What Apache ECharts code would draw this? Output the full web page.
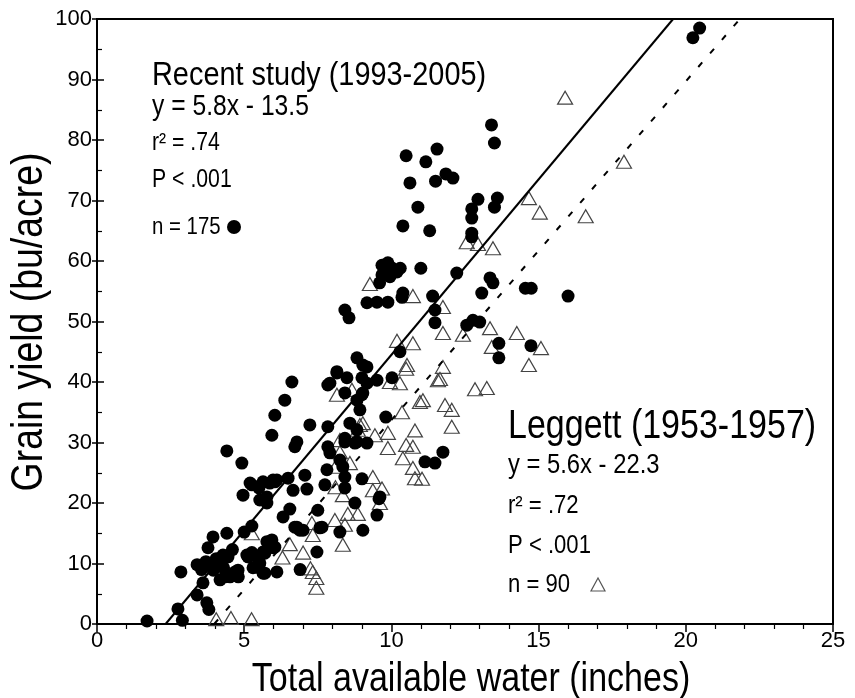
<!DOCTYPE html>
<html><head><meta charset="utf-8">
<script src="https://cdn.jsdelivr.net/npm/echarts@6/dist/echarts.min.js"></script>
<style>html,body{margin:0;padding:0;background:#fff}#c{width:855px;height:698px}</style>
</head><body><div id="c"></div>
<script>
// Recent study (1993-2005): [water (in), yield (bu/acre)]
const recentPoints = [
 [1.7,0.5],[2.9,0.6],[2.75,2.5],[3.4,4.8],[3.73,3.5],[3.8,2.4],[2.85,8.6],[3.4,9.8],[3.55,9.0],[3.7,10.3],
 [3.77,12.6],[3.94,14.4],[3.95,8.9],[4.18,10.1],[4.28,11.4],[4.18,7.3],[4.41,8.1],[4.69,8.6],[4.8,7.8],[4.41,15.0],
 [4.45,11.1],[4.05,10.8],[4.3,9.3],[3.6,6.8],[4.6,12.3],[4.35,7.8],[4.52,7.8],[4.0,9.4],[3.57,9.4],
 [5.0,15.2],[5.26,16.2],[5.09,11.4],[5.26,11.8],[5.43,11.1],[5.77,13.6],[5.98,12.6],[5.3,9.3],[5.7,8.4],[6.11,8.6],
 [5.13,11.1],[5.43,9.4],[5.53,10.1],[5.7,11.7],[6.04,12.7],[4.79,8.9],
 [4.96,21.3],[5.26,23.0],[5.64,23.5],[5.53,20.5],[5.77,20.0],[5.98,23.8],[5.5,22.5],[5.2,23.3],[5.77,21.0],[6.04,23.5],
 [4.41,28.6],[4.92,26.6],[5.94,31.2],[6.04,34.5],[6.38,37.0],[6.62,40.0],
 [5.87,23.3],[6.11,23.8],[6.49,24.1],[7.06,24.6],[6.66,22.1],[7.13,22.3],[7.74,23.0],[8.42,24.3],[8.42,22.5],[9.0,24.0],
 [6.55,19.0],[6.32,17.7],[7.5,18.8],[6.79,16.0],[7.0,15.5],[7.64,16.0],[8.76,20.0],[8.25,15.2],[9.03,15.5],[9.58,20.7],
 [9.51,18.0],[5.94,13.9],[5.64,11.9],[7.47,11.9],[5.64,8.4],[6.9,9.0],[6.89,15.5],[6.72,16.0],[7.57,15.9],
 [7.23,32.9],[7.84,32.6],[8.59,33.2],[6.79,30.1],[6.72,29.3],[9.81,34.2],[7.84,29.3],[8.25,27.1],[8.42,30.1],[8.83,30.1],
 [9.17,29.9],[7.81,25.5],[8.35,26.0],[7.91,28.3],[8.42,30.7],[8.76,29.9],[9.61,21.0],
 [7.84,39.5],[8.42,38.2],[9.03,38.2],[8.83,44.0],[9.17,42.5],[8.15,41.5],[8.49,40.7],[9.0,40.7],[9.51,40.3],[10.02,40.7],
 [7.91,39.8],[9.17,39.8],[9.0,37.9],[8.83,37.0],[8.93,35.4],[8.83,32.1],[8.15,41.7],[9.03,42.8],[10.29,45.0],
 [8.42,51.9],[8.56,50.6],[9.17,53.1],[9.51,53.2],[9.88,53.2],[10.36,54.0],[9.68,59.3],[9.88,59.7],[10.19,58.2],[9.68,57.7],
 [9.95,57.4],[9.6,56.4],[10.3,58.8],[9.8,58.5],[9.75,58.0],[10.0,58.9],[11.0,58.8],[11.4,54.2],[11.48,51.9],[11.48,49.8],[10.39,54.7],
 [12.22,58.0],[13.35,57.2],[13.45,56.4],[13.07,54.7],[14.55,55.5],[14.75,55.5],[16.0,54.2],[12.56,49.4],[12.77,50.2],[13.0,49.9],
 [13.65,46.4],[13.65,44.0],[14.74,46.0],[11.14,26.8],[11.48,26.6],[11.75,28.4],
 [10.5,77.4],[11.55,78.5],[11.17,76.4],[11.85,74.4],[12.09,73.7],[10.63,72.9],[11.5,73.2],[12.94,70.2],[13.6,70.4],[13.5,68.9],
 [12.73,68.6],[12.73,67.1],[12.73,64.6],[12.73,64.0],[10.9,68.9],[10.39,65.8],[11.3,65.0],[13.4,82.5],[13.5,79.5],
 [20.24,96.9],[20.47,98.5]
];
// Leggett (1953-1957)
const leggettPoints = [
 [4.05,0.8],[4.55,1.0],[5.25,0.8],[7.25,9.2],[7.45,7.6],[7.45,6.0],[7.33,8.6],
 [6.3,11.0],[6.55,13.2],[7.0,11.8],[7.3,16.7],[7.33,14.7],[5.26,15.0],
 [8.08,17.2],[8.42,16.4],[8.35,13.1],[8.52,18.2],[8.86,18.2],[8.35,21.3],[9.37,24.3],[9.37,22.1],[9.68,22.4],[9.61,20.0],
 [8.59,26.6],[8.1,26.0],[8.1,22.6],[8.25,30.4],[8.25,28.4],[8.15,37.9],[8.66,38.7],[9.03,33.2],[9.44,31.2],[9.88,31.6],
 [9.88,29.1],[10.36,35.0],[10.39,27.4],[10.5,29.6],[8.93,32.9],[8.86,32.1],
 [10.73,25.8],[10.8,24.1],[11.04,24.0],[10.73,29.3],[10.8,32.0],[10.97,36.7],[11.07,37.0],[11.82,36.2],[12.05,35.4],[12.05,32.6],
 [10.29,39.8],[9.95,40.0],[11.58,40.3],[11.65,40.5],[11.75,42.5],[10.53,42.8],[10.5,42.2],[12.84,38.8],[13.24,39.0],
 [10.19,46.8],[10.73,46.4],[11.75,48.1],[12.43,47.8],[11.75,52.4],[13.35,48.9],[14.26,48.1],[13.41,45.8],[15.08,45.6],[14.67,42.8],
 [9.27,56.2],[10.73,54.2],[12.56,63.1],[12.94,62.8],[13.45,62.1],[14.67,70.4],[15.04,68.0],[16.6,67.4],[17.9,76.4],[15.9,87.0]
];
// Regression lines (endpoints of stated fits)
const recentFit = [[2.33,0],[19.57,100]];
const leggettFit = [[3.98,0],[21.84,100]];
const xTicks = [0,5,10,15,20,25];
const yTicks = [0,10,20,30,40,50,60,70,80,90,100];
const recentLabels = ['Recent study (1993-2005)','y = 5.8x - 13.5','r\u00b2 = .74','P < .001','n = 175'];
const leggettLabels = ['Leggett (1953-1957)','y = 5.6x - 22.3','r\u00b2 = .72','P < .001','n = 90'];
const xTitle = 'Total available water (inches)';
const yTitle = 'Grain yield (bu/acre)';

const FONT = 'Liberation Sans, Arial, sans-serif';
const chart = echarts.init(document.getElementById('c'));
const axisBase = {min:0, axisLine:{show:true,lineStyle:{color:'#000',width:2}}, splitLine:{show:false}};
function txt(t, x, y, size, sx){
  return {type:'text', x:x, y:y, scaleX:sx, z:100,
    style:{text:t, font: size+'px '+FONT, fill:'#000', textVerticalAlign:'middle'}};
}
const g = [];
const rY = [76,107,143,180,227], lY = [427,465,506,546,585];
const rSizes = [34,29,25,25,24], lSizes = [40,28,26,26,26];
recentLabels.forEach((t,i)=>g.push(txt(t,152,rY[i],rSizes[i],0.85)));
leggettLabels.forEach((t,i)=>g.push(txt(t,508,lY[i],lSizes[i],0.85)));
g.push({type:'circle', shape:{cx:234, cy:227, r:7}, style:{fill:'#000'}, z:100});
g.push({type:'polygon', shape:{points:[[598,578],[591,591],[605,591]]}, style:{fill:'none', stroke:'#555', lineWidth:1.2}, z:100});
g.push({type:'text', x:471, y:680, scaleX:0.85, z:100, style:{text:xTitle, font:'40px '+FONT, fill:'#000', textAlign:'center', textVerticalAlign:'middle'}});
g.push({type:'text', x:30, y:322, rotation:Math.PI/2, z:100, scaleX:0.85, style:{text:yTitle, font:'44px '+FONT, fill:'#000', textAlign:'center', textVerticalAlign:'middle'}});

chart.setOption({
  animation:false,
  grid:{left:97, right:22, top:19, bottom:74, show:true, borderColor:'#000', borderWidth:2, containLabel:false},
  xAxis:[
    Object.assign({}, axisBase, {type:'value', max:25, interval:5,
      axisTick:{show:true, inside:false, length:5, lineStyle:{color:'#000',width:1.5}},
      axisLabel:{fontSize:22, color:'#000', fontFamily:FONT, margin:6, formatter:v=>xTicks.includes(v)?String(v):''}}),
    Object.assign({}, axisBase, {type:'value', max:25, interval:5,
      axisLabel:{show:false}, axisLine:{show:false},
      axisTick:{show:true, inside:true, length:8, lineStyle:{color:'#000',width:1.5}},
      minorTick:{show:true, splitNumber:5, length:5, lineStyle:{color:'#000',width:1.2}}})
  ],
  yAxis:[
    Object.assign({}, axisBase, {type:'value', max:100, interval:10,
      axisTick:{show:true, inside:false, length:5, lineStyle:{color:'#000',width:1.5}},
      axisLabel:{fontSize:22, color:'#000', fontFamily:FONT, margin:5, formatter:v=>yTicks.includes(v)?String(v):''}}),
    Object.assign({}, axisBase, {type:'value', max:100, interval:10, position:'left',
      axisLabel:{show:false}, axisLine:{show:false},
      axisTick:{show:true, inside:true, length:7, lineStyle:{color:'#000',width:1.5}},
      minorTick:{show:true, splitNumber:2, length:5, lineStyle:{color:'#000',width:1.2}}})
  ],
  series:[
    {type:'scatter', name:'Leggett', data:leggettPoints, symbol:'triangle', symbolSize:[15,13], z:2,
      itemStyle:{color:'rgba(255,255,255,0)', borderColor:'#444', borderWidth:1.2, opacity:1}},
    {type:'line', data:leggettFit, symbol:'none', z:3, lineStyle:{color:'#000', width:2, type:[6,12]}},
    {type:'line', data:recentFit, symbol:'none', z:3, lineStyle:{color:'#000', width:2}},
    {type:'scatter', name:'Recent', data:recentPoints, symbol:'circle', symbolSize:13, z:4,
      itemStyle:{color:'#000', opacity:1}}
  ],
  graphic:g
});
</script></body></html>
